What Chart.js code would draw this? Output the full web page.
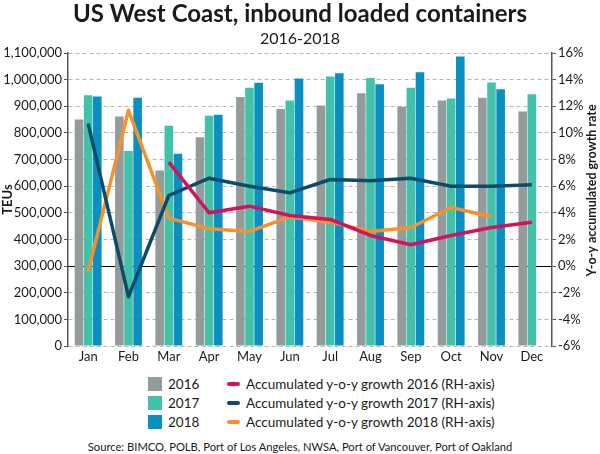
<!DOCTYPE html>
<html>
<head>
<meta charset="utf-8">
<script src="https://cdn.jsdelivr.net/npm/chart.js@4"></script>
<style>
  html, body { margin: 0; padding: 0; background: #fff; }
  body { width: 600px; height: 454px; position: relative; overflow: hidden;
         font-family: Lato, "Open Sans", sans-serif; color: #1a1a1a; }
  #wrap { position: absolute; left: 0; top: 0; width: 600px; height: 368px; }
  .leg { position: absolute; font-size: 13.5px; line-height: 19px; white-space: nowrap; }
  .sq { position: absolute; width: 14px; height: 14px; }
  .ln { position: absolute; width: 13px; height: 4px; border-radius: 2px; }
  #source { position: absolute; left: 0; width: 600px; top: 440px; text-align: center;
            font-size: 11.2px; }
</style>
</head>
<body>
<div id="wrap"><canvas id="c"></canvas></div>
<div id="legend"></div>
<div id="source">Source: BIMCO, POLB, Port of Los Angeles, NWSA, Port of Vancouver, Port of Oakland</div>
<script>
const months = ['Jan', 'Feb', 'Mar', 'Apr', 'May', 'Jun',
                'Jul', 'Aug', 'Sep', 'Oct', 'Nov', 'Dec'];

// Monthly TEUs (left axis)
const teu2016 = [850000, 862000, 659000, 784000, 935000, 890000,
                 903000, 949000, 898000, 922000, 932000, 880000];
const teu2017 = [941000, 732000, 827000, 864000, 970000, 922000,
                 1012000, 1006000, 970000, 929000, 989000, 945000];
const teu2018 = [937000, 932000, 722000, 868000, 988000, 1004000,
                 1024000, 983000, 1028000, 1087000, 964000, null];

// Accumulated y-o-y growth, % (right axis)
const growth2016 = [null, null, 7.8, 4.0, 4.5, 3.8, 3.5, 2.3, 1.6, 2.3, 2.9, 3.3];
const growth2017 = [10.7, -2.3, 5.3, 6.6, 6.0, 5.5, 6.5, 6.4, 6.6, 6.0, 6.0, 6.1];
const growth2018 = [-0.4, 11.7, 3.6, 2.8, 2.6, 3.7, 3.3, 2.6, 2.9, 4.4, 3.7, null];

const colors = {
    g2016: '#939b9b', g2017: '#42c2ab', g2018: '#0a90c0',
    l2016: '#d3125f', l2017: '#0d4b6a', l2018: '#f6912e',
};
const font = 'Lato, "Open Sans", sans-serif';
const ink = '#1a1a1a';
const axisGray = '#555';

function bar(label, data, color) {
    return {type: 'bar', label, data, backgroundColor: color, borderWidth: 0,
            yAxisID: 'y', order: 2, categoryPercentage: 0.68, barPercentage: 0.94};
}
function line(label, data, color) {
    return {type: 'line', label, data, borderColor: color, backgroundColor: color,
            borderWidth: 3.5, pointRadius: 0, tension: 0, yAxisID: 'y1', order: 1,
            borderCapStyle: 'butt', borderJoinStyle: 'round'};
}

// Solid black line at 0% on the right axis (same level as 300,000 TEUs).
const zeroLine = {
    id: 'zero-line',
    beforeDatasetsDraw(chart) {
        const {ctx, chartArea, scales} = chart;
        const y = Math.round(scales.y1.getPixelForValue(0)) + 0.5;
        ctx.save();
        ctx.strokeStyle = '#000';
        ctx.lineWidth = 1.2;
        ctx.beginPath();
        ctx.moveTo(chartArea.left, y);
        ctx.lineTo(chartArea.right, y);
        ctx.stroke();
        ctx.restore();
    },
};

// Right-hand axis title reads bottom to top, like the left one.
const rightTitle = {
    id: 'right-title',
    afterDraw(chart) {
        const {ctx, chartArea} = chart;
        ctx.save();
        ctx.translate(592, (chartArea.top + chartArea.bottom) / 2 - 9);
        ctx.rotate(-Math.PI / 2);
        ctx.font = `bold 12.5px ${font}`;
        ctx.fillStyle = ink;
        ctx.textAlign = 'center';
        ctx.textBaseline = 'middle';
        ctx.fillText('Y-o-y accumulated growth rate', 0, 0);
        ctx.restore();
    },
};

Chart.defaults.font.family = font;
Chart.defaults.color = ink;

new Chart(document.getElementById('c'), {
    type: 'bar',
    data: {
        labels: months,
        datasets: [
            line('Accumulated y-o-y growth 2016 (RH-axis)', growth2016, colors.l2016),
            line('Accumulated y-o-y growth 2017 (RH-axis)', growth2017, colors.l2017),
            line('Accumulated y-o-y growth 2018 (RH-axis)', growth2018, colors.l2018),
            bar('2016', teu2016, colors.g2016),
            bar('2017', teu2017, colors.g2017),
            bar('2018', teu2018, colors.g2018),
        ],
    },
    plugins: [zeroLine, rightTitle],
    options: {
        responsive: true,
        maintainAspectRatio: false,
        animation: false,
        layout: {padding: {left: 0, right: 0, top: 0, bottom: 0}},
        plugins: {
            legend: {display: false},
            tooltip: {enabled: false},
            title: {
                display: true, text: 'US West Coast, inbound loaded containers',
                font: {size: 24, weight: 'bold'}, color: ink,
                padding: {top: 0, bottom: 0},
            },
            subtitle: {
                display: true, text: '2016-2018',
                font: {size: 16}, color: ink,
                padding: {top: 0, bottom: 5},
            },
        },
        scales: {
            x: {
                grid: {display: false, drawTicks: false},
                border: {display: false},
                ticks: {font: {size: 13}, color: ink, padding: 3, maxRotation: 0},
                afterFit: s => { s.height = 22; },
            },
            y: {
                position: 'left',
                min: 0, max: 1100000,
                ticks: {
                    stepSize: 100000, font: {size: 13}, color: ink, padding: 2,
                    callback: v => v.toLocaleString('en-US'),
                },
                grid: {color: '#b5b5b5', lineWidth: 1, tickLength: 4, tickColor: axisGray},
                border: {display: true, color: axisGray, width: 1.5, dash: [4, 3]},
                title: {display: true, text: 'TEUs', font: {size: 13, weight: 'bold'},
                        color: ink, padding: 0},
                afterFit: s => { s.width = 68; },
            },
            y1: {
                position: 'right',
                min: -6, max: 16,
                ticks: {stepSize: 2, font: {size: 13}, color: ink, padding: 2,
                        callback: v => v + '%'},
                grid: {drawOnChartArea: false, tickLength: 4, tickColor: axisGray},
                border: {display: true, color: axisGray, width: 1.5},
                afterFit: s => { s.width = 48; },
            },
        },
    },
});

// Two-column legend below the chart
const barItems = [['2016', colors.g2016], ['2017', colors.g2017], ['2018', colors.g2018]];
const lineItems = [
    ['Accumulated y-o-y growth 2016 (RH-axis)', colors.l2016],
    ['Accumulated y-o-y growth 2017 (RH-axis)', colors.l2017],
    ['Accumulated y-o-y growth 2018 (RH-axis)', colors.l2018],
];
const legend = document.getElementById('legend');
const rowTop = [375, 394, 413];
barItems.forEach(([t, c], i) => {
    legend.insertAdjacentHTML('beforeend',
        `<div class="sq" style="left:148px;top:${rowTop[i] + 2}px;background:${c}"></div>` +
        `<div class="leg" style="left:168px;top:${rowTop[i]}px">${t}</div>`);
});
lineItems.forEach(([t, c], i) => {
    legend.insertAdjacentHTML('beforeend',
        `<div class="ln" style="left:227px;top:${rowTop[i] + 7}px;background:${c}"></div>` +
        `<div class="leg" style="left:246px;top:${rowTop[i]}px">${t}</div>`);
});
</script>
</body>
</html>
